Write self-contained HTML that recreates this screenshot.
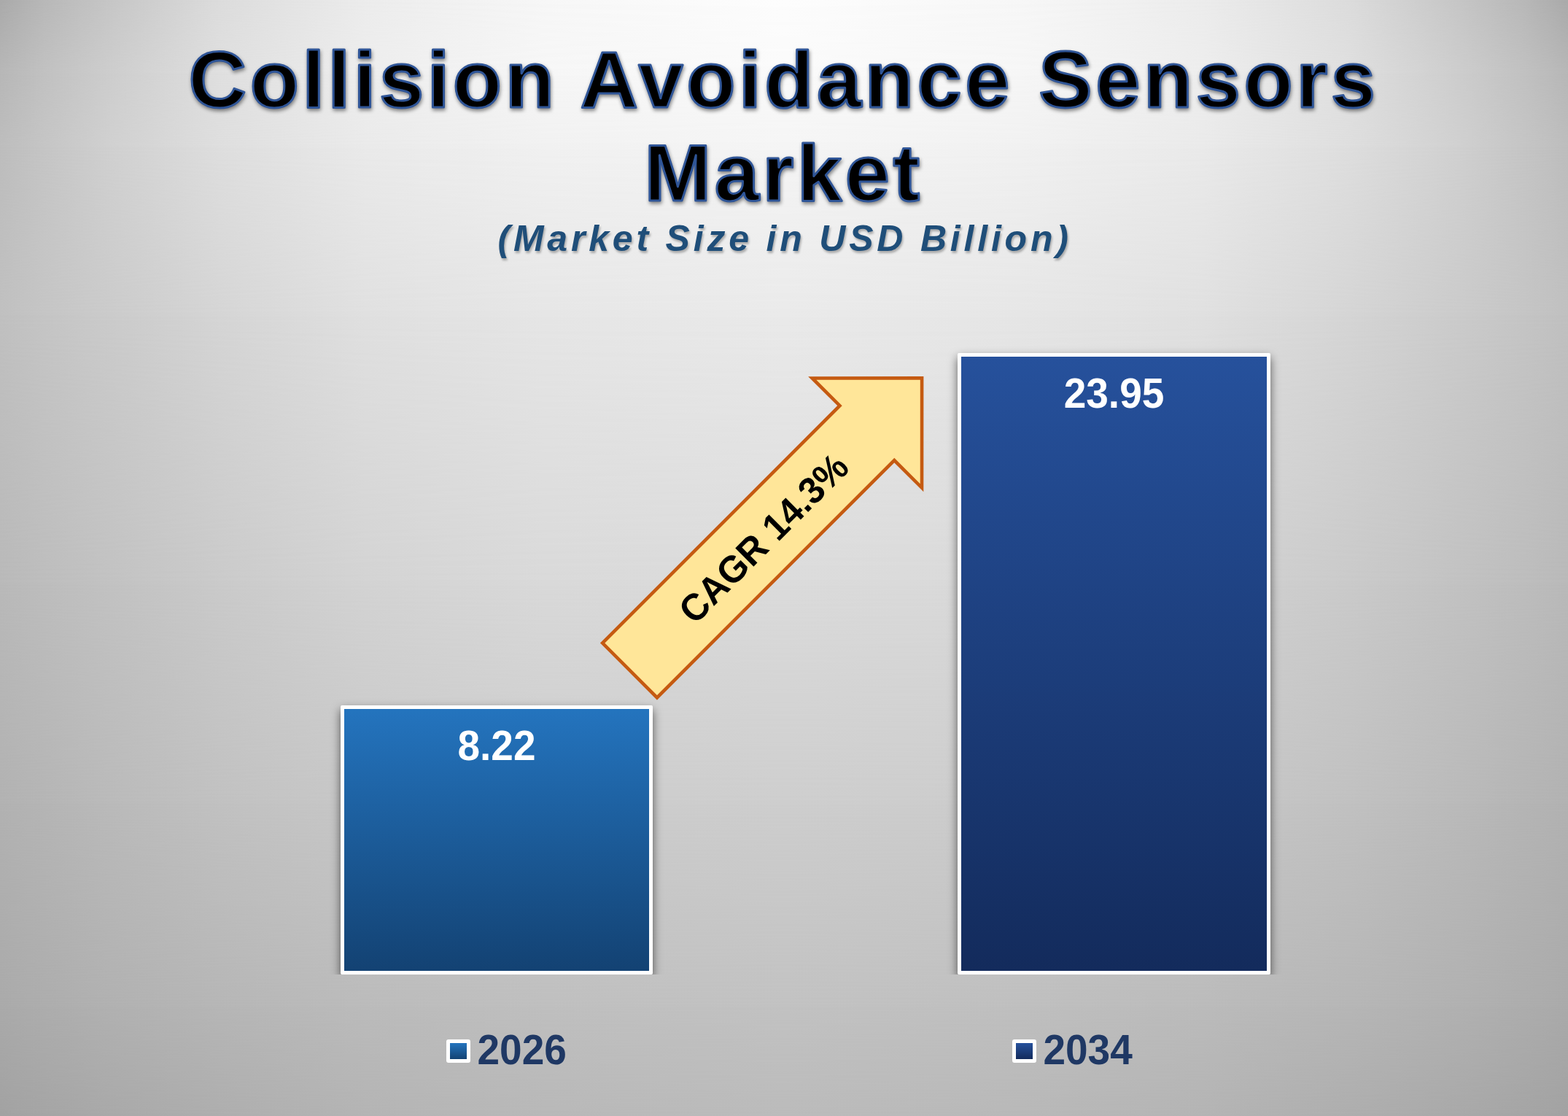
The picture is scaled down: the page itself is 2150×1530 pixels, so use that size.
<!DOCTYPE html>
<html lang="en">
<head>
<meta charset="utf-8">
<title>Collision Avoidance Sensors Market</title>
<style>
html,body{margin:0;padding:0;}
body{width:2150px;height:1530px;overflow:hidden;position:relative;
  font-family:"Liberation Sans",sans-serif;font-weight:bold;
  background:#c0c0c0;}
#bg{position:absolute;left:0;top:0;width:2150px;height:1530px;overflow:hidden;}
.bgl{position:absolute;left:0;top:0;width:2150px;height:1530px;}
#title{position:absolute;left:0;top:0;overflow:visible;filter:drop-shadow(1.5px 3.5px 2.5px rgba(0,0,0,.45));}
#sub{position:absolute;left:1.1px;top:298px;width:2150px;text-align:center;
  font-size:50px;line-height:58px;letter-spacing:4.8px;font-style:italic;color:#1f4e79;
  text-shadow:1.5px 3px 3px rgba(0,0,0,.28);white-space:nowrap;}
#plot{position:absolute;left:0;top:400px;width:2150px;height:936px;overflow:hidden;}
.bar{position:absolute;box-sizing:border-box;border:5px solid #fff;border-radius:2px;
  box-shadow:0 6px 12.5px rgba(0,0,0,.6);color:#fff;font-size:55px;text-align:center;}
#b1{left:467px;top:567px;width:428px;height:369px;background:linear-gradient(#2474be,#134273);}
#b2{left:1313px;top:84px;width:429px;height:852px;background:linear-gradient(#26519c,#132b5c);}
.bar span{display:block;line-height:62px;margin-top:19.5px;transform-origin:50% 50.06px;transform:scaleY(1.035);}
.leg{position:absolute;top:1408.65px;height:62px;line-height:62px;font-size:55px;color:#1f3864;white-space:nowrap;transform-origin:0 50.06px;transform:scaleY(1.035);}
.sw{position:absolute;box-sizing:border-box;width:33px;height:32px;border:5px solid #fff;border-radius:3px;top:1425px;}
#arrow{position:absolute;left:0;top:0;}

</style>
</head>
<body>
<div id="bg">
<div class="bgl" style="background:linear-gradient(to right,#aaaaaa 0.000%,#b8b8b8 2.791%,#c6c6c6 6.977%,#dcdcdc 13.953%,#ececec 23.256%,#f7f7f7 34.884%,#fdfdfd 50.000%,#f7f7f7 65.116%,#ececec 76.744%,#dcdcdc 86.047%,#c6c6c6 93.023%,#b8b8b8 97.209%,#aaaaaa 100.000%);"></div>
<div class="bgl" style="background:linear-gradient(to right,#b7b7b7 0.000%,#c1c1c1 2.791%,#cdcdcd 6.977%,#dfdfdf 13.953%,#ededed 23.256%,#f6f6f6 34.884%,#fafafa 50.000%,#f6f6f6 65.116%,#ededed 76.744%,#dfdfdf 86.047%,#cdcdcd 93.023%,#c1c1c1 97.209%,#b7b7b7 100.000%);-webkit-mask-image:linear-gradient(to bottom,transparent 0px,#000 100px);mask-image:linear-gradient(to bottom,transparent 0px,#000 100px);"></div>
<div class="bgl" style="background:linear-gradient(to right,#bdbdbd 0.000%,#c5c5c5 2.791%,#d0d0d0 6.977%,#dedede 13.953%,#eaeaea 23.256%,#f1f1f1 34.884%,#f5f5f5 50.000%,#f1f1f1 65.116%,#eaeaea 76.744%,#dedede 86.047%,#d0d0d0 93.023%,#c5c5c5 97.209%,#bdbdbd 100.000%);-webkit-mask-image:linear-gradient(to bottom,transparent 100px,#000 200px);mask-image:linear-gradient(to bottom,transparent 100px,#000 200px);"></div>
<div class="bgl" style="background:linear-gradient(to right,#c0c0c0 0.000%,#c5c5c5 2.791%,#cbcbcb 6.977%,#d5d5d5 13.953%,#e0e0e0 23.256%,#e6e6e6 34.884%,#eaeaea 50.000%,#e6e6e6 65.116%,#e0e0e0 76.744%,#d5d5d5 86.047%,#cbcbcb 93.023%,#c5c5c5 97.209%,#c0c0c0 100.000%);-webkit-mask-image:linear-gradient(to bottom,transparent 200px,#000 430px);mask-image:linear-gradient(to bottom,transparent 200px,#000 430px);"></div>
<div class="bgl" style="background:linear-gradient(to right,#b9b9b9 0.000%,#bdbdbd 2.791%,#c2c2c2 6.977%,#cacaca 13.953%,#d3d3d3 23.256%,#d9d9d9 34.884%,#dbdbdb 50.000%,#d9d9d9 65.116%,#d3d3d3 76.744%,#cacaca 86.047%,#c2c2c2 93.023%,#bdbdbd 97.209%,#b9b9b9 100.000%);-webkit-mask-image:linear-gradient(to bottom,transparent 430px,#000 800px);mask-image:linear-gradient(to bottom,transparent 430px,#000 800px);"></div>
<div class="bgl" style="background:linear-gradient(to right,#b2b2b2 0.000%,#b5b5b5 2.791%,#bababa 6.977%,#c1c1c1 13.953%,#c8c8c8 23.256%,#cccccc 34.884%,#cecece 50.000%,#cccccc 65.116%,#c8c8c8 76.744%,#c1c1c1 86.047%,#bababa 93.023%,#b5b5b5 97.209%,#b2b2b2 100.000%);-webkit-mask-image:linear-gradient(to bottom,transparent 800px,#000 1100px);mask-image:linear-gradient(to bottom,transparent 800px,#000 1100px);"></div>
<div class="bgl" style="background:linear-gradient(to right,#aaaaaa 0.000%,#adadad 2.791%,#b1b1b1 6.977%,#b6b6b6 13.953%,#bbbbbb 23.256%,#bfbfbf 34.884%,#c2c2c2 50.000%,#bfbfbf 65.116%,#bbbbbb 76.744%,#b6b6b6 86.047%,#b1b1b1 93.023%,#adadad 97.209%,#aaaaaa 100.000%);-webkit-mask-image:linear-gradient(to bottom,transparent 1100px,#000 1380px);mask-image:linear-gradient(to bottom,transparent 1100px,#000 1380px);"></div>
<div class="bgl" style="background:linear-gradient(to right,#a2a2a2 0.000%,#a5a5a5 2.791%,#a9a9a9 6.977%,#aeaeae 13.953%,#b4b4b4 23.256%,#b8b8b8 34.884%,#bbbbbb 50.000%,#b8b8b8 65.116%,#b4b4b4 76.744%,#aeaeae 86.047%,#a9a9a9 93.023%,#a5a5a5 97.209%,#a2a2a2 100.000%);-webkit-mask-image:linear-gradient(to bottom,transparent 1380px,#000 1530px);mask-image:linear-gradient(to bottom,transparent 1380px,#000 1530px);"></div>
</div>
<svg id="title" width="2150" height="300" viewBox="0 0 2150 300">
  <g font-family="Liberation Sans, sans-serif" font-weight="bold" font-size="110" letter-spacing="4.6" fill="#000" stroke="#2f5597" stroke-width="3" stroke-linejoin="round" stroke-linecap="round">
    <text x="258.61" y="146.97">Collision Avoidance Sensors</text>
    <text x="883.49" y="274.67">Market</text>
  </g>
</svg>
<div id="sub">(Market Size in USD Billion)</div>
<div id="plot">
  <div class="bar" id="b1"><span>8.22</span></div>
  <div class="bar" id="b2"><span>23.95</span></div>
</div>
<svg id="arrow" width="2150" height="1530" viewBox="0 0 2150 1530">
  <g transform="translate(1063.8,718.7) rotate(-45)">
    <polygon points="-283.25,-52.9 176.85,-52.9 176.85,-106.3 283.25,0 176.85,106.3 176.85,52.9 -283.25,52.9" fill="#ffe699" stroke="#c55a11" stroke-width="4.6" stroke-linejoin="miter"/>
    <text x="-25.5" y="0" transform="translate(0,19.6) scale(1,1.035)" text-anchor="middle" font-family="Liberation Sans, sans-serif" font-weight="bold" font-size="50" fill="#000">CAGR 14.3%</text>
  </g>
</svg>
<div class="sw" style="left:612px;background:linear-gradient(#2474be,#134273);"></div>
<div class="leg" style="left:654.5px;">2026</div>
<div class="sw" style="left:1388px;background:linear-gradient(#26519c,#132b5c);"></div>
<div class="leg" style="left:1430.4px;">2034</div>

</body>
</html>
